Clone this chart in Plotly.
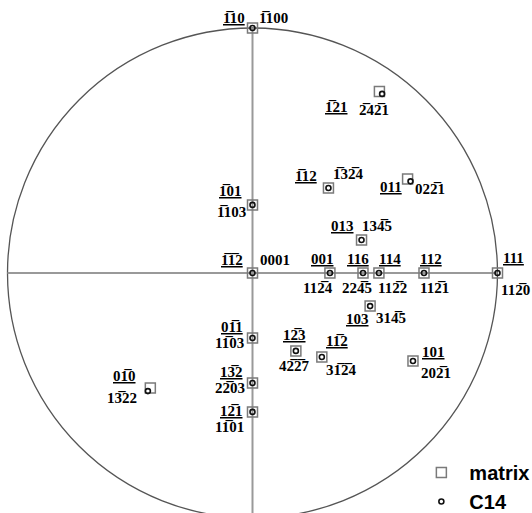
import plotly.graph_objects as go

B = "\u0305"  # combining overline (overbar)

# Stereographic positions (unit circle) of the poles
poles = ["1b10", "1b21", "1b12", "011", "1b01", "1b1b2", "001", "116", "114", "112", "111",
         "013", "103", "01b1", "13b2", "12b1", "12b3", "11b2", "101", "01b0"]
matrix_x = [0.000, 0.518, 0.310, 0.633, 0.000, 0.000, 0.316, 0.451, 0.516, 0.700, 1.000,
            0.445, 0.480, 0.000, 0.000, 0.000, 0.177, 0.283, 0.655, -0.417]
matrix_y = [1.000, 0.741, 0.347, 0.384, 0.278, 0.000, 0.000, 0.000, 0.000, 0.000, 0.000,
            0.135, -0.135, -0.265, -0.449, -0.567, -0.318, -0.343, -0.359, -0.469]
c14_x = [0.000, 0.529, 0.310, 0.645, 0.000, 0.000, 0.316, 0.451, 0.516, 0.700, 1.000,
         0.445, 0.480, 0.000, 0.000, 0.000, 0.177, 0.283, 0.655, -0.427]
c14_y = [1.000, 0.731, 0.347, 0.374, 0.278, 0.000, 0.000, 0.000, 0.000, 0.000, 0.000,
         0.135, -0.135, -0.265, -0.449, -0.567, -0.318, -0.343, -0.359, -0.482]

matrix_labels = ["1"+B+"10", "1"+B+"21", "1"+B+"12", "011", "1"+B+"01", "1"+B+"1"+B+"2",
                 "001", "116", "114", "112", "111", "013", "103", "01"+B+"1", "13"+B+"2",
                 "12"+B+"1", "12"+B+"3", "11"+B+"2", "101", "01"+B+"0"]
c14_labels = ["1"+B+"100", "2"+B+"42"+B+"1", "1"+B+"32"+B+"4", "022"+B+"1", "1"+B+"103", "0001",
              "112"+B+"4", "224"+B+"5", "112"+B+"2", "112"+B+"1", "112"+B+"0", "134"+B+"5",
              "314"+B+"5", "11"+B+"03", "22"+B+"03", "11"+B+"01", "42"+B+"2"+B+"7",
              "31"+B+"2"+B+"4", "202"+B+"1", "13"+B+"22"]

# label offsets in pixels (dx right, dy up) relative to the pole
matrix_off = [(-19, 10), (-43, -16), (-22, 12), (-17, -8), (-22, 14), (-21, 13),
              (-7, 14), (-5, 14), (11, 14), (7, 14), (16, 15), (-19, 14), (-13, -13),
              (-21, 11), (-21, 11), (-21, 1), (-1, 16), (15, 16), (21, 9), (-26, 12)]
c14_off = [(21, 10), (-8, -16), (20, 14), (19, -8), (-21, -7), (22, 13),
           (-12, -15), (-6, -15), (14, -15), (10, -15), (18, -17), (15, 14), (21, -12),
           (-23, -5), (-23, -5), (-23, -15), (-1, -15), (20, -13), (23, -12), (-26, -7)]

W, H = 532, 513
CX, CY, R = 252.5, 273.0, 245.0

fig = go.Figure()
fig.add_trace(go.Scatter(x=matrix_x, y=matrix_y, mode="markers", name="matrix",
                         marker=dict(symbol="square-open", size=10, color="#7a7a7a",
                                     line=dict(width=1.5, color="#7a7a7a"))))
fig.add_trace(go.Scatter(x=c14_x, y=c14_y, mode="markers", name="C14",
                         marker=dict(symbol="circle-open", size=5, color="#111111",
                                     line=dict(width=1.6, color="#111111"))))

fig.add_shape(type="circle", x0=-1, x1=1, y0=-1, y1=1, xref="x", yref="y",
              line=dict(color="#555555", width=1.3), layer="below")
fig.add_shape(type="line", x0=-1, x1=1, y0=0, y1=0, xref="x", yref="y",
              line=dict(color="#999999", width=2), layer="below")
fig.add_shape(type="line", x0=0, x1=0, y0=1, y1=-1.2, xref="x", yref="y",
              line=dict(color="#999999", width=2), layer="below")

serif = dict(family="Liberation Serif, Times New Roman, serif", size=15, color="black",
             weight="bold")
anns = []
for i in range(len(poles)):
    dx, dy = matrix_off[i]
    anns.append(dict(x=matrix_x[i], y=matrix_y[i], text="<u>" + matrix_labels[i] + "</u>",
                     xshift=dx, yshift=dy, showarrow=False, font=serif,
                     xanchor="center", yanchor="middle"))
    dx, dy = c14_off[i]
    anns.append(dict(x=c14_x[i], y=c14_y[i], text=c14_labels[i],
                     xshift=dx, yshift=dy, showarrow=False, font=serif,
                     xanchor="center", yanchor="middle"))

fig.update_layout(
    width=W, height=H,
    margin=dict(l=0, r=0, t=0, b=0, autoexpand=False),
    paper_bgcolor="white", plot_bgcolor="white",
    xaxis=dict(range=[(0 - CX) / R, (W - CX) / R], visible=False, fixedrange=True),
    yaxis=dict(range=[(CY - H) / R, CY / R], visible=False, fixedrange=True),
    annotations=anns,
    showlegend=True,
    legend=dict(x=0.777, y=0.117, xanchor="left", yanchor="top",
                bgcolor="rgba(0,0,0,0)", itemsizing="trace", itemwidth=46,
                font=dict(family="Liberation Sans, Arial, sans-serif", size=20,
                          color="black", weight="bold")),
)

# remove the default 8px page margin so the figure fills the window exactly
fig.write_html("out.html",
               config={"displayModeBar": False},
               post_script="document.body.style.margin='0';"
                           "document.body.style.overflow='hidden';")
